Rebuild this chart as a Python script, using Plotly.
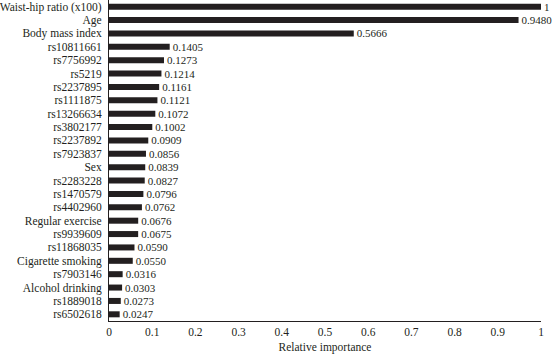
import plotly.graph_objects as go

features = ["Waist-hip ratio (x100)", "Age", "Body mass index", "rs10811661", "rs7756992",
            "rs5219", "rs2237895", "rs1111875", "rs13266634", "rs3802177", "rs2237892",
            "rs7923837", "Sex", "rs2283228", "rs1470579", "rs4402960", "Regular exercise",
            "rs9939609", "rs11868035", "Cigarette smoking", "rs7903146", "Alcohol drinking",
            "rs1889018", "rs6502618"]
importance = [1, 0.9480, 0.5666, 0.1405, 0.1273, 0.1214, 0.1161, 0.1121, 0.1072, 0.1002,
              0.0909, 0.0856, 0.0839, 0.0827, 0.0796, 0.0762, 0.0676, 0.0675, 0.0590,
              0.0550, 0.0316, 0.0303, 0.0273, 0.0247]
labels = ["1" if v == 1 else f"{v:.4f}" for v in importance]
x_ticks = [0, 0.1, 0.2, 0.3, 0.4, 0.5, 0.6, 0.7, 0.8, 0.9, 1]
x_tick_text = ["0", "0.1", "0.2", "0.3", "0.4", "0.5", "0.6", "0.7", "0.8", "0.9", "1"]

FONT = "Liberation Serif"

fig = go.Figure(go.Bar(
    x=importance, y=features, orientation="h",
    marker=dict(color="#231f20", line=dict(width=0)),
    width=0.45,
    text=labels, textposition="outside",
    cliponaxis=False, constraintext="none",
    textfont=dict(family=FONT, size=11, color="#231f20"),
))

fig.update_layout(
    width=552, height=354,
    margin=dict(l=104, r=11, t=0, b=33),
    paper_bgcolor="white", plot_bgcolor="white",
    showlegend=False,
    font=dict(family=FONT, size=11.5, color="#231f20"),
    xaxis=dict(range=[0, 1], tickmode="array", tickvals=x_ticks, ticktext=x_tick_text,
               showgrid=False, zeroline=False, showline=True, linecolor="#231f20",
               linewidth=1, ticks="", tickfont=dict(size=11.5),
               title=dict(text="Relative importance", font=dict(size=11.5), standoff=6)),
    yaxis=dict(tickmode="array", tickvals=features, ticktext=features,
               categoryorder="array", categoryarray=features, autorange="reversed",
               showgrid=False, zeroline=False, showline=True, linecolor="#231f20",
               linewidth=1, ticks="", tickfont=dict(size=11.5), ticklabelstandoff=4),
)

fig.write_html("out.html")
